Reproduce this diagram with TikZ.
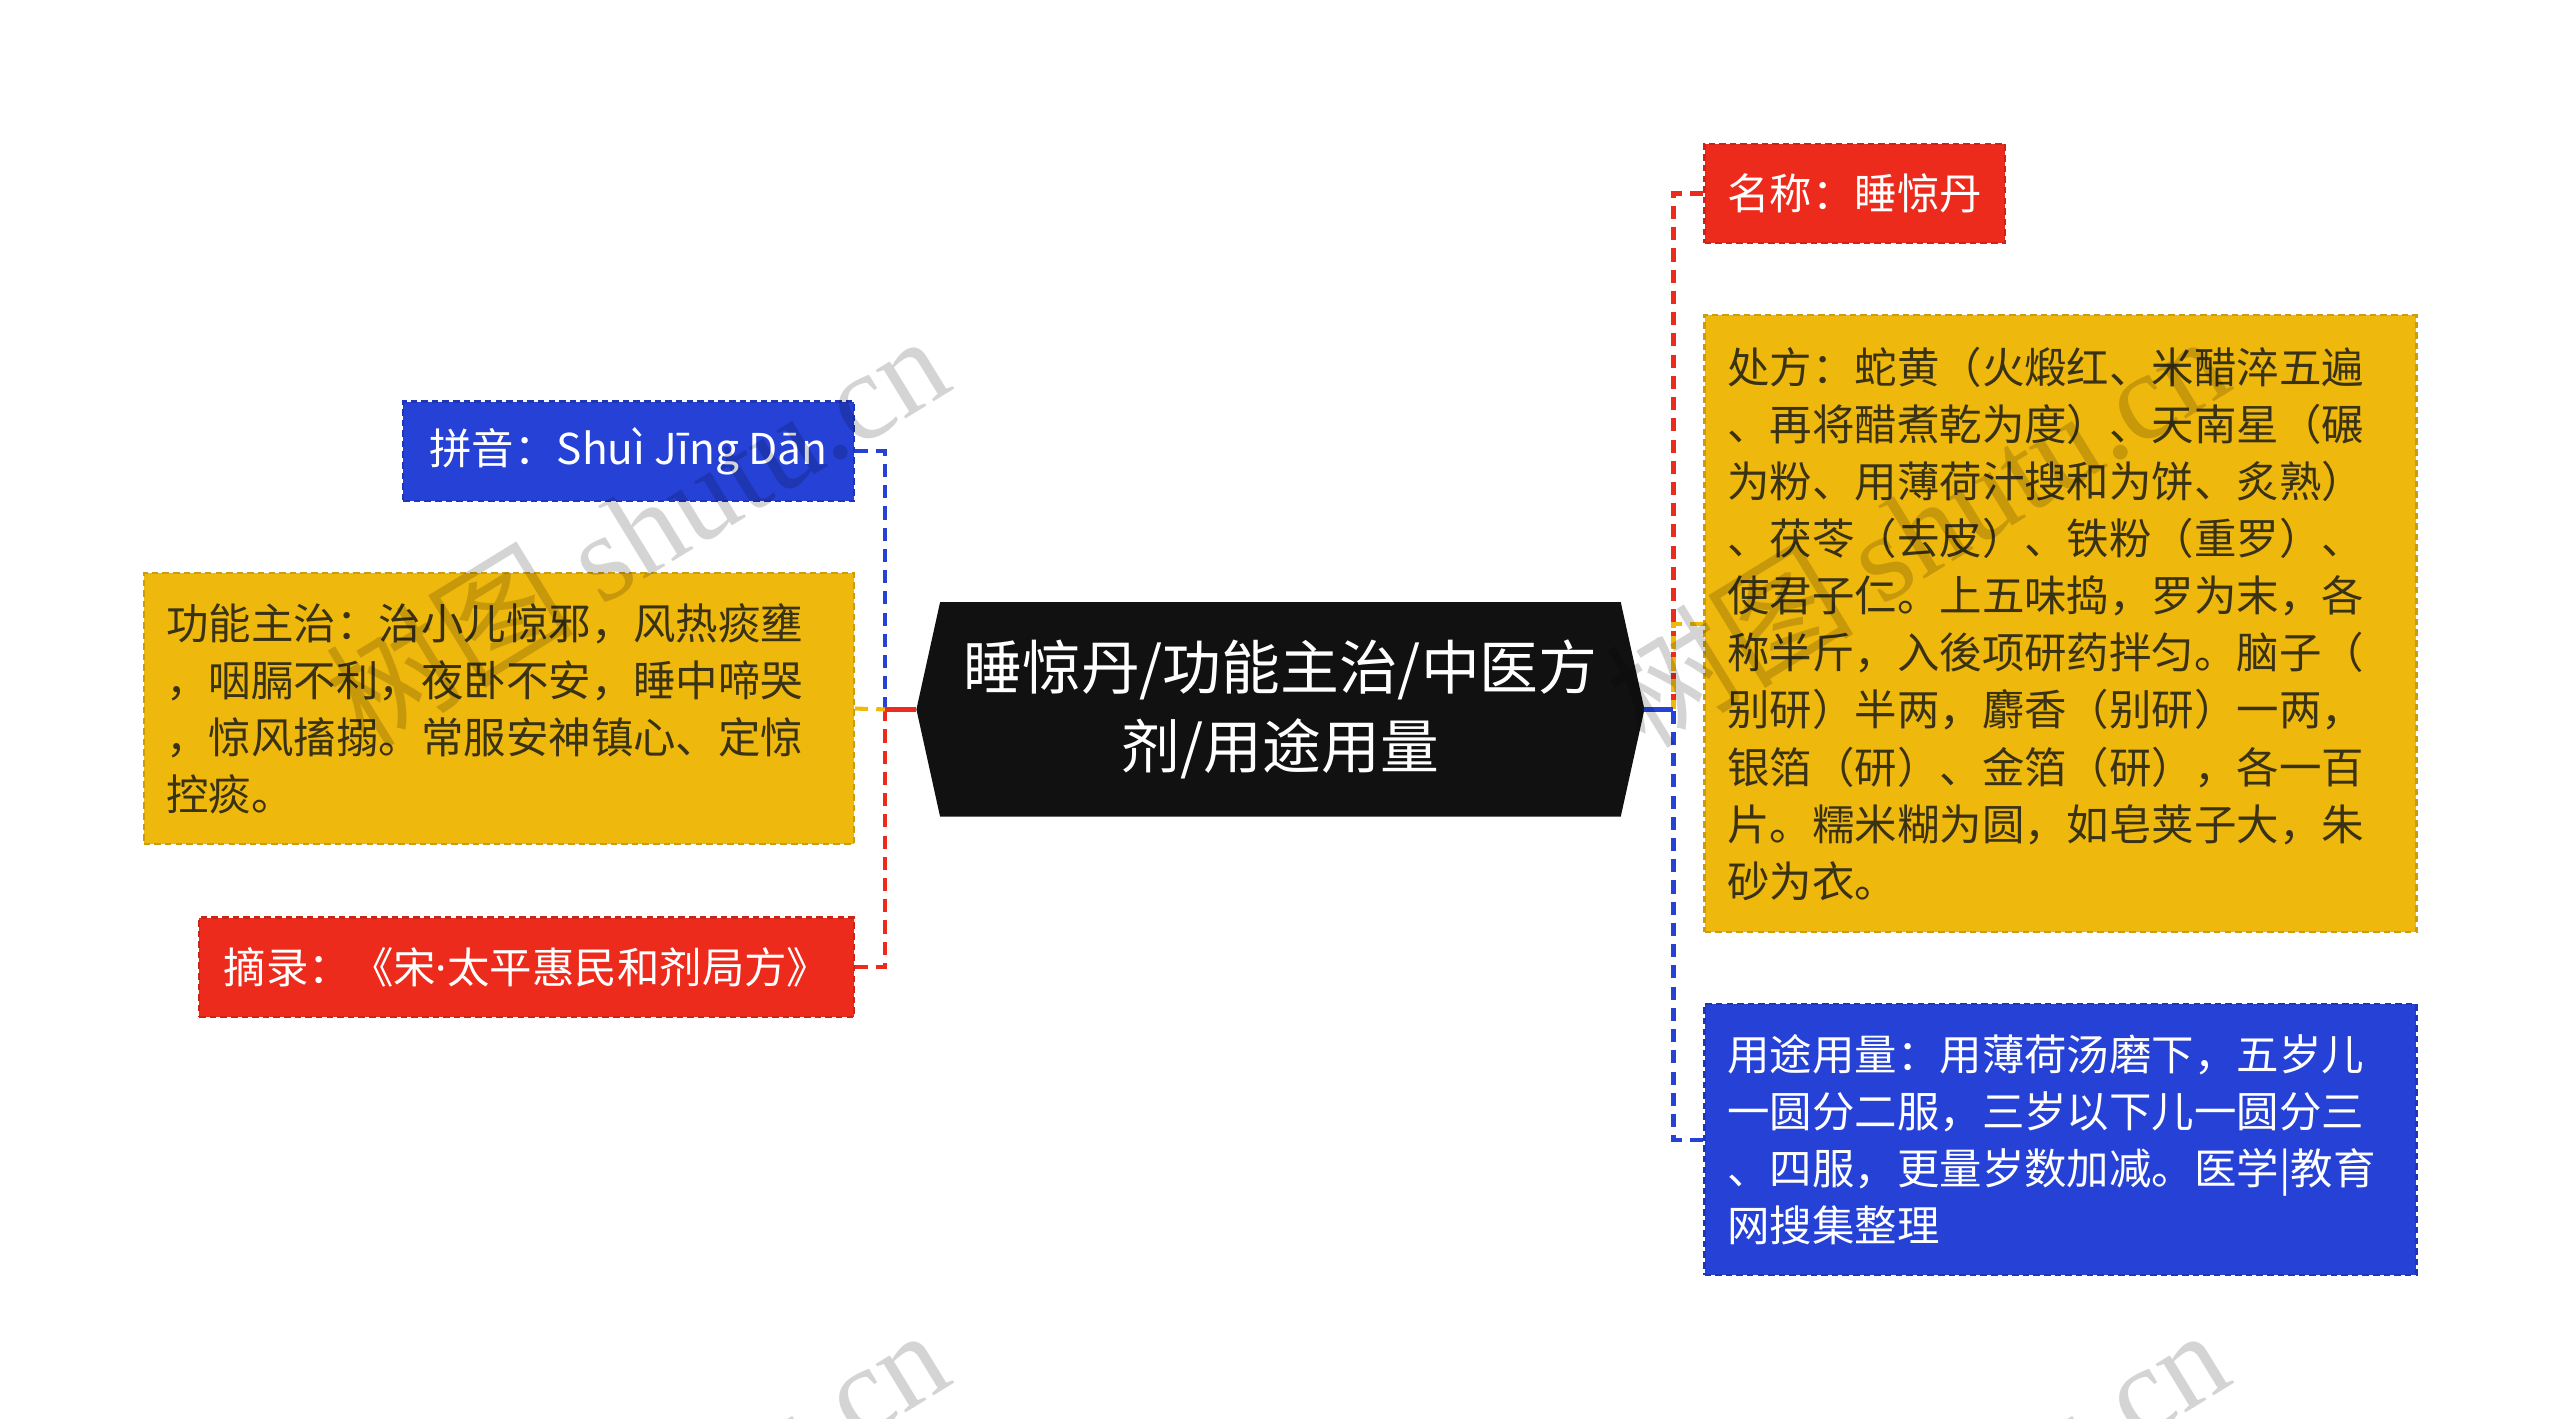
\documentclass[tikz,border=0pt]{standalone}
\usepackage{fontspec}
\setmainfont{Noto Sans CJK SC}
\newfontfamily\wmlatin{Liberation Serif}
\newfontfamily\latinf{Noto Sans}
\usetikzlibrary{backgrounds}
\definecolor{cred}{HTML}{EC2B1C}
\definecolor{cyel}{HTML}{EFB80D}
\definecolor{cblue}{HTML}{2541D6}
\definecolor{cblack}{HTML}{111111}
\definecolor{ytext}{HTML}{3A3215}
\begin{document}
\begin{tikzpicture}[x=1pt,y=-1pt,
  box/.style={rectangle, inner xsep=14pt, inner ysep=0pt, line width=1.4pt,
    dash pattern=on 4pt off 2.5pt, font=\fontsize{26}{35}\selectfont},
  redbox/.style={box, fill=cred, draw=cred!85!black, text=white},
  yelbox/.style={box, fill=cyel, draw=cyel!85!black, text=ytext},
  bluebox/.style={box, fill=cblue, draw=cblue!85!black, text=white},
  dconn/.style={line width=2.5pt, dash pattern=on 8pt off 5pt},
  sconn/.style={line width=2.8pt},
  wm/.style={text=black, text opacity=0.17, rotate=31.5, font=\fontsize{76}{76}\selectfont}
]
\useasboundingbox (0,0) rectangle (1568,869);

% central node
\node[align=center, text=white, minimum width=445.5pt, minimum height=131pt,
  font=\fontsize{36}{48}\selectfont] (C) at (784.25,434.5)
  {睡惊丹/功能主治/中医方\\剂/用途用量};
\begin{pgfonlayer}{background}
\fill[cblack] (C.west) -- ([xshift=14.5pt]C.north west) -- ([xshift=-14.5pt]C.north east)
  -- (C.east) -- ([xshift=-14.5pt]C.south east) -- ([xshift=14.5pt]C.south west) -- cycle;
\end{pgfonlayer}

% right boxes
\node[redbox, minimum width=184pt, minimum height=61pt] (r1) at (1136,118.5) {名称：睡惊丹};
\node[yelbox, text width=408pt, minimum height=378pt, align=left] (r2) at (1262,382)
{处方：蛇黄（火煅红、米醋淬五遍\\
、再将醋煮乾为度）、天南星（碾\\
为粉、用薄荷汁搜和为饼、炙熟）\\
、茯苓（去皮）、铁粉（重罗）、\\
使君子仁。上五味捣，罗为末，各\\
称半斤，入後项研药拌匀。脑子（\\
别研）半两，麝香（别研）一两，\\
银箔（研）、金箔（研），各一百\\
片。糯米糊为圆，如皂荚子大，朱\\
砂为衣。};
\node[bluebox, text width=408pt, minimum height=166pt, align=left] (r3) at (1262,698)
{用途用量：用薄荷汤磨下，五岁儿\\
一圆分二服，三岁以下儿一圆分三\\
、四服，更量岁数加减。医学|教育\\
网搜集整理};

% left boxes
\node[bluebox, minimum width=276pt, minimum height=61pt] (l1) at (385,276.5) {拼音：Shuì Jīng Dān};
\node[yelbox, text width=407pt, minimum height=166pt, align=left] (l2) at (305.5,434)
{功能主治：治小儿惊邪，风热痰壅\\
，咽膈不利，夜卧不安，睡中啼哭\\
，惊风搐搦。常服安神镇心、定惊\\
控痰。};
\node[redbox, minimum width=401pt, minimum height=61pt] (l3) at (322.5,592.5) {摘录：《宋{\latinf ·}太平惠民和剂局方》};

% trunks
\coordinate (LT) at (542,434.5);
\coordinate (RT) at (1025,434.5);

% left connectors
\draw[dconn, cblue] (l1.east) -| (LT);
\draw[dconn, cred] (l3.east) -| (LT);
\draw[dconn, cyel] (l2.east) -- (LT);
\draw[sconn, cred] (LT) -- (C.west);

% right connectors
\draw[dconn, cred] (r1.west) -| (RT);
\draw[dconn, cyel] (r2.west) -| (RT);
\draw[dconn, cblue] (r3.west) -| (RT);
\draw[sconn, cblue] (RT) -- (C.east);

% watermarks
\begin{scope}
\clip (0,0) rectangle (1568,869);
\node[wm] (w1) at (390,324) {树图 {\wmlatin shutu.cn}};
\node[wm] (w2) at (1174,324) {树图 {\wmlatin shutu.cn}};
\node[wm] (w3) at (390,933) {树图 {\wmlatin shutu.cn}};
\node[wm] (w4) at (1174,933) {树图 {\wmlatin shutu.cn}};
\end{scope}
\end{tikzpicture}
\end{document}
